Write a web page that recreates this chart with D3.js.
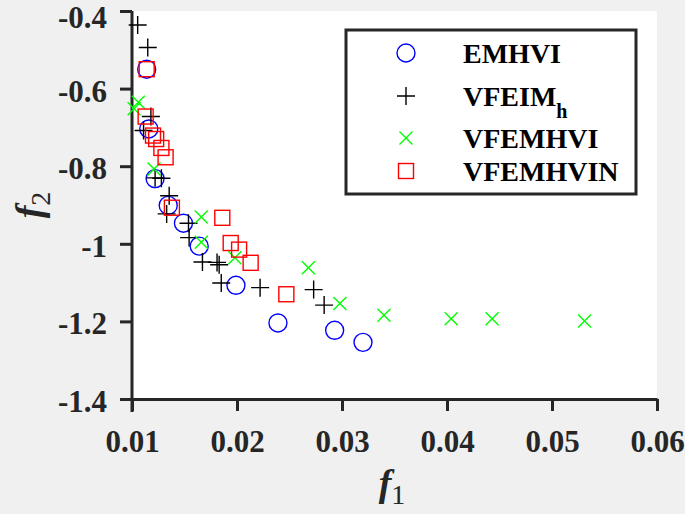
<!DOCTYPE html>
<html>
<head>
<meta charset="utf-8">
<script src="https://cdn.jsdelivr.net/npm/d3@7"></script>
<style>
  body { margin: 0; background: #f0f0f0; }
  svg { display: block; }
</style>
</head>
<body>
<div id="chart"></div>
<script>
// data: [f1, f2]
let emhvi = [[0.0114,-0.550],[0.0116,-0.704],[0.0122,-0.832],[0.01345,-0.901],[0.0149,-0.947],
             [0.0164,-1.006],[0.0199,-1.107],[0.0239,-1.204],[0.0293,-1.223],[0.0320,-1.254]];
let vfeimh = [[0.01054,-0.436],[0.0115,-0.494],[0.0118,-0.672],[0.0111,-0.708],[0.0122,-0.830],
              [0.0128,-0.831],[0.01354,-0.876],[0.0133,-0.923],[0.01538,-0.947],[0.01544,-0.984],
              [0.01671,-1.047],[0.0181,-1.048],[0.0183,-1.054],[0.0185,-1.101],[0.0222,-1.113],
              [0.0273,-1.118],[0.0283,-1.158]];
let vfemhvi = [[0.0106,-0.635],[0.0102,-0.652],[0.0121,-0.807],[0.0166,-0.931],[0.0166,-0.996],
               [0.0198,-1.036],[0.0268,-1.062],[0.0298,-1.154],[0.0340,-1.184],[0.0404,-1.193],
               [0.0443,-1.193],[0.0531,-1.199]];
let vfemhvin = [[0.0114,-0.550],[0.0113,-0.672],[0.0120,-0.721],[0.0123,-0.730],[0.0128,-0.753],
                [0.0132,-0.777],[0.0138,-0.907],[0.0186,-0.933],[0.0194,-0.998],[0.0202,-1.015],
                [0.0213,-1.049],[0.0247,-1.130]];
let xTicks = [0.01, 0.02, 0.03, 0.04, 0.05, 0.06];
let yTicks = [-0.4, -0.6, -0.8, -1, -1.2, -1.4];
let legendNames = ["EMHVI", "VFEIM", "VFEMHVI", "VFEMHVIN"];

let width = 685, height = 514,
    margin = {top: 11, right: 28, bottom: 115, left: 132},
    axisColor = '#262626',
    font = '"Liberation Serif", "Times New Roman", serif';

let svg = d3.select('#chart').append('svg')
    .attr('width', width)
    .attr('height', height);

let x = d3.scaleLinear().domain([0.01, 0.06]).range([margin.left, width - margin.right]);
let y = d3.scaleLinear().domain([-1.4, -0.4]).range([height - margin.bottom, margin.top]);

// white plot area
svg.append('rect')
    .attr('x', x(0.01)).attr('y', y(-0.4))
    .attr('width', x(0.06) - x(0.01))
    .attr('height', y(-1.4) - y(-0.4))
    .attr('fill', 'white');

let fmt = d => String(d);

let gx = svg.append('g')
    .attr('transform', 'translate(0,' + y(-1.4) + ')')
    .call(d3.axisBottom(x).tickValues(xTicks).tickFormat(fmt).tickSize(12).tickSizeOuter(0).tickPadding(19));
let gy = svg.append('g')
    .attr('transform', 'translate(' + x(0.01) + ',0)')
    .call(d3.axisLeft(y).tickValues(yTicks).tickFormat(fmt).tickSize(12).tickSizeOuter(0).tickPadding(13));

[gx, gy].forEach(g => {
    g.selectAll('path, line').attr('stroke', axisColor).attr('stroke-width', 3);
    g.selectAll('text')
        .attr('fill', axisColor)
        .style('font-family', font)
        .style('font-weight', 'bold')
        .style('font-size', '31px');
});
gy.selectAll('text').attr('dy', '0.40em');
// top label sits right at the edge, nudge it inside
gy.selectAll('text').filter(d => d == -0.4).attr('y', 4);
// y axis line runs past the x axis
gy.select('.domain').attr('d', 'M0,' + y(-0.4) + 'V' + (y(-1.4) + 13));

// markers
let plot = svg.append('g');
let lw = 1.4;

plot.selectAll('.c').data(emhvi).join('circle')
    .attr('cx', d => x(d[0])).attr('cy', d => y(d[1])).attr('r', 9)
    .attr('fill', 'none').attr('stroke', '#0000ff').attr('stroke-width', lw);

plot.selectAll('.p').data(vfeimh).join('path')
    .attr('d', d => {
        let cx = x(d[0]), cy = y(d[1]), s = 9;
        return 'M' + (cx - s) + ',' + cy + 'H' + (cx + s) + 'M' + cx + ',' + (cy - s) + 'V' + (cy + s);
    })
    .attr('stroke', 'black').attr('stroke-width', lw);

plot.selectAll('.x').data(vfemhvi).join('path')
    .attr('d', d => {
        let cx = x(d[0]), cy = y(d[1]), s = 6.5;
        return 'M' + (cx - s) + ',' + (cy - s) + 'L' + (cx + s) + ',' + (cy + s) +
               'M' + (cx - s) + ',' + (cy + s) + 'L' + (cx + s) + ',' + (cy - s);
    })
    .attr('stroke', '#00ff00').attr('stroke-width', lw);

plot.selectAll('.s').data(vfemhvin).join('rect')
    .attr('x', d => x(d[0]) - 7.5).attr('y', d => y(d[1]) - 7.5)
    .attr('width', 15).attr('height', 15)
    .attr('fill', 'none').attr('stroke', '#ff0000').attr('stroke-width', lw);

// axis titles
svg.append('text')
    .attr('x', 392).attr('y', 496)
    .attr('text-anchor', 'middle')
    .style('font-family', font).style('font-size', '38px').attr('fill', axisColor)
    .call(t => {
        t.append('tspan').style('font-style', 'italic').style('font-weight', 'bold').text('f');
        t.append('tspan').attr('dy', 8).style('font-size', '28px').text('1');
    });
svg.append('text')
    .attr('transform', 'translate(42,205) rotate(-90)')
    .attr('text-anchor', 'middle')
    .style('font-family', font).style('font-size', '38px').attr('fill', axisColor)
    .call(t => {
        t.append('tspan').style('font-style', 'italic').style('font-weight', 'bold').text('f');
        t.append('tspan').attr('dy', 8).style('font-size', '28px').text('2');
    });

// legend
let legend = svg.append('g');
legend.append('rect')
    .attr('x', 346).attr('y', 30).attr('width', 290).attr('height', 164)
    .attr('fill', 'white').attr('stroke', axisColor).attr('stroke-width', 3);

let rowsY = [53, 96, 138, 171], mx = 406;
legend.append('circle').attr('cx', mx).attr('cy', rowsY[0]).attr('r', 9)
    .attr('fill', 'none').attr('stroke', '#0000ff').attr('stroke-width', lw);
legend.append('path')
    .attr('d', 'M' + (mx - 9) + ',' + rowsY[1] + 'H' + (mx + 9) + 'M' + mx + ',' + (rowsY[1] - 9) + 'V' + (rowsY[1] + 9))
    .attr('stroke', 'black').attr('stroke-width', lw);
legend.append('path')
    .attr('d', 'M' + (mx - 6.5) + ',' + (rowsY[2] - 6.5) + 'L' + (mx + 6.5) + ',' + (rowsY[2] + 6.5) +
               'M' + (mx - 6.5) + ',' + (rowsY[2] + 6.5) + 'L' + (mx + 6.5) + ',' + (rowsY[2] - 6.5))
    .attr('stroke', '#00ff00').attr('stroke-width', lw);
legend.append('rect').attr('x', mx - 7.5).attr('y', rowsY[3] - 7.5).attr('width', 15).attr('height', 15)
    .attr('fill', 'none').attr('stroke', '#ff0000').attr('stroke-width', lw);

legendNames.forEach((name, i) => {
    let t = legend.append('text')
        .attr('x', 463).attr('y', rowsY[i]).attr('dy', '0.35em')
        .attr('fill', 'black')
        .style('font-family', font).style('font-weight', 'bold').style('font-size', '28px')
        .text(name);
    if (i == 1) {
        t.append('tspan').attr('dy', 12).style('font-size', '20px').text('h');
    }
});
</script>
</body>
</html>
